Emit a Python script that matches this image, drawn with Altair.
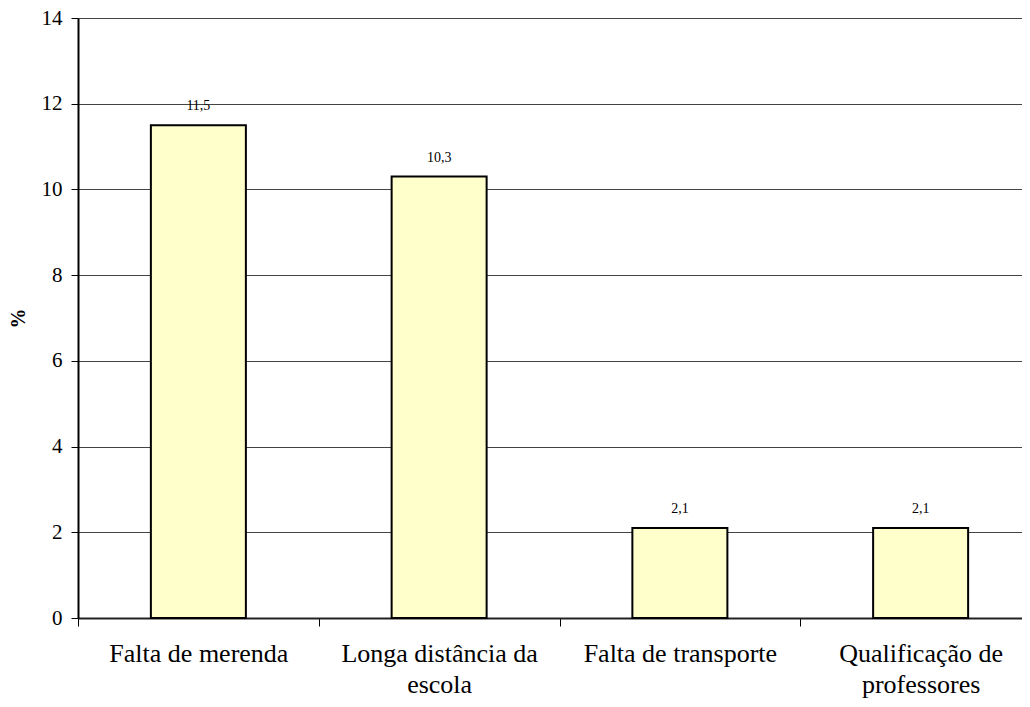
import json
import altair as alt
import pandas as pd

categories = ["Falta de merenda", "Longa distância da escola", "Falta de transporte", "Qualificação de professores"]
label_lines = [["Falta de merenda"], ["Longa distância da", "escola"], ["Falta de transporte"], ["Qualificação de", "professores"]]
values = [11.5, 10.3, 2.1, 2.1]
y_ticks = [0, 2, 4, 6, 8, 10, 12, 14]

df = pd.DataFrame({"cat": categories, "v": values})

expr = "datum.label"
for c, lines in zip(categories, label_lines):
    expr = f"datum.label == {json.dumps(c, ensure_ascii=False)} ? {json.dumps(lines, ensure_ascii=False)} : ({expr})"

FONT = "Liberation Serif"

x = alt.X("cat:N", sort=None, title=None,
          scale=alt.Scale(range=[0, 963], paddingInner=0, paddingOuter=0),
          axis=alt.Axis(labelAngle=0, labelFont=FONT, labelFontSize=26, labelColor="black",
                        labelExpr=expr, labelLineHeight=31, labelPadding=14,
                        tickBand="extent", tickSize=8, tickColor="black", tickWidth=1,
                        domainColor="#222", domainWidth=2, grid=False, labelLimit=400))
y = alt.Y("v:Q", title="%",
          scale=alt.Scale(domain=[0, 14], nice=False),
          axis=alt.Axis(values=y_ticks, labelFont=FONT, labelFontSize=21, labelColor="black",
                        tickSize=7, tickColor="black", labelPadding=9,
                        domainColor="black", domainWidth=2,
                        grid=True, gridColor="#444", gridWidth=1,
                        titleFont=FONT, titleFontSize=20, titleFontWeight="bold", titleColor="black",
                        titleAngle=270, titleX=-60, titleY=300, titleAlign="center", titleBaseline="middle"))

base = alt.Chart(df)
bars = base.mark_bar(size=95, color="#FFFFCC", stroke="black", strokeWidth=2).encode(x=x, y=y)
text = base.transform_calculate(
    lab="replace(format(datum.v, '.1f'), '.', ',')"
).mark_text(font=FONT, fontSize=14, color="black", baseline="alphabetic", dy=-15).encode(
    x=alt.X("cat:N", sort=None), y="v:Q", text="lab:N")

chart = (bars + text).properties(
    width=944, height=600,
    autosize=alt.AutoSizeParams(type="none"),
    padding={"left": 70, "top": 10, "right": 0, "bottom": 81},
).configure(font=FONT).configure_axis(labelFont=FONT, titleFont=FONT).configure_view(stroke=None)

chart.save("out.html", embed_options={"renderer": "svg", "actions": False})
